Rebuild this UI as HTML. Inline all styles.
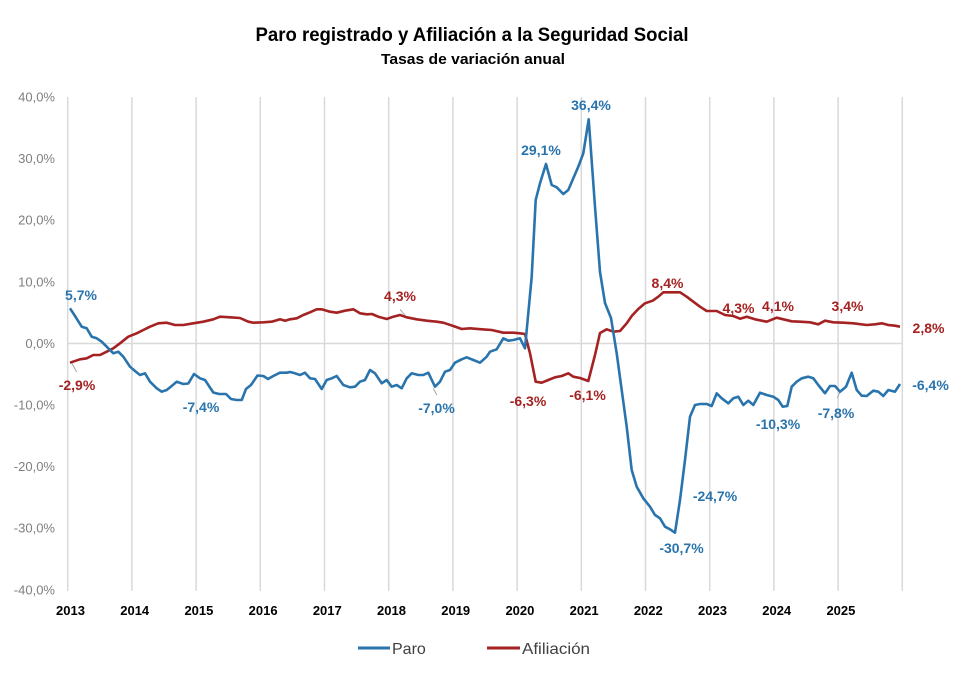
<!DOCTYPE html>
<html>
<head>
<meta charset="utf-8">
<style>
html,body{margin:0;padding:0;background:#fff;}
svg{display:block;}
</style>
</head>
<body>
<svg width="974" height="684" viewBox="0 0 974 684" xmlns="http://www.w3.org/2000/svg" font-family="'Liberation Sans', sans-serif">
<rect width="974" height="684" fill="#fff"/>
<!-- Title -->
<text x="472" y="41" text-anchor="middle" font-size="19" font-weight="bold" fill="#000" textLength="433" lengthAdjust="spacingAndGlyphs">Paro registrado y Afiliación a la Seguridad Social</text>
<text x="473" y="64" text-anchor="middle" font-size="15" font-weight="bold" fill="#000" textLength="184" lengthAdjust="spacingAndGlyphs">Tasas de variación anual</text>

<!-- vertical gridlines -->
<g stroke="#d9d9d9" stroke-width="1.5">
<line x1="67.7" y1="97" x2="67.7" y2="591"/>
<line x1="131.9" y1="97" x2="131.9" y2="591"/>
<line x1="196.1" y1="97" x2="196.1" y2="591"/>
<line x1="260.3" y1="97" x2="260.3" y2="591"/>
<line x1="324.5" y1="97" x2="324.5" y2="591"/>
<line x1="388.7" y1="97" x2="388.7" y2="591"/>
<line x1="452.9" y1="97" x2="452.9" y2="591"/>
<line x1="517.1" y1="97" x2="517.1" y2="591"/>
<line x1="581.3" y1="97" x2="581.3" y2="591"/>
<line x1="645.5" y1="97" x2="645.5" y2="591"/>
<line x1="709.7" y1="97" x2="709.7" y2="591"/>
<line x1="773.9" y1="97" x2="773.9" y2="591"/>
<line x1="838.1" y1="97" x2="838.1" y2="591"/>
<line x1="902.3" y1="97" x2="902.3" y2="591"/>
<line x1="67.7" y1="343.5" x2="902.3" y2="343.5"/>
</g>

<!-- y axis labels -->
<g font-size="13" fill="#7f7f7f" text-anchor="end">
<text x="55" y="101.5">40,0%</text>
<text x="55" y="163.1">30,0%</text>
<text x="55" y="224.7">20,0%</text>
<text x="55" y="286.3">10,0%</text>
<text x="55" y="347.9">0,0%</text>
<text x="55" y="409.5">-10,0%</text>
<text x="55" y="471.1">-20,0%</text>
<text x="55" y="532.7">-30,0%</text>
<text x="55" y="594.3">-40,0%</text>
</g>

<!-- x axis labels -->
<g font-size="13" font-weight="bold" fill="#000" text-anchor="middle">
<text x="70.5" y="615">2013</text>
<text x="134.7" y="615">2014</text>
<text x="198.9" y="615">2015</text>
<text x="263.1" y="615">2016</text>
<text x="327.3" y="615">2017</text>
<text x="391.5" y="615">2018</text>
<text x="455.7" y="615">2019</text>
<text x="519.9" y="615">2020</text>
<text x="584.1" y="615">2021</text>
<text x="648.3" y="615">2022</text>
<text x="712.5" y="615">2023</text>
<text x="776.7" y="615">2024</text>
<text x="840.9" y="615">2025</text>
</g>

<!-- leader lines -->
<g stroke="#a6a6a6" stroke-width="1">
<line x1="71.7" y1="363" x2="76.7" y2="372"/>
<line x1="400" y1="309.3" x2="406.7" y2="317.3"/>
<line x1="433.3" y1="388.3" x2="436.7" y2="395"/>
<line x1="840" y1="391.7" x2="837.3" y2="398.3"/>
</g>

<!-- Afiliacion -->
<polyline fill="none" stroke="#a52222" stroke-width="2.6" stroke-linejoin="round" points="70,362.7 80,359.3 86.7,358.3 93.3,355 100,355 106.7,351.7 113.3,348.3 120,343.3 128.3,336.7 136.7,333.3 143.3,330 150,326.7 158.3,323.3 166.7,322.7 175,325 183.3,325 193.3,323.3 203.3,321.7 213.3,319.3 220,316.7 230,317.3 240,318 248.3,321.7 253.3,322.7 263.3,322.3 271.7,321.7 280,319.3 285,320.7 290,319.3 296.7,318.3 303.3,315 310,312.3 316.7,309.3 321.7,309.3 326.7,310.7 330,311.7 336.7,312.7 345,310.7 353.3,309.3 360,313.3 366.7,314.3 372,314 378.3,316.7 386.7,319 393.3,316.7 400,315 406.7,317.3 416.7,319.3 426.7,320.7 436.7,321.7 443.3,322.7 453.3,326 461.7,329 470,328.3 481.7,329.3 491.7,330 503.3,332.7 513.3,332.7 520,333.3 525,334 530,353.3 535.7,381.7 541.7,382.7 548.3,380 555,377.3 561.7,376 568.3,373.3 573.3,376.7 580,378 588.3,381 595,355 600,333 606.7,329.3 613.3,331.7 620,331 626.7,323.3 631.7,316 638.3,309 645,303.3 652.7,300.7 658.3,296.7 663.3,292.3 671.7,292.3 680,292.3 686.7,296.7 693.3,301.7 700,306.7 706.7,311 716.7,311 725,315 733.3,316 740,318.7 746.7,316.7 755,319.3 766.7,321.7 776.7,317.7 783.3,319.3 791.7,321.3 800,321.7 810,322.3 818.3,324.3 825,320.7 833.3,322.3 843.3,322.7 853.3,323.3 866.7,325 875,324.3 881.7,323.3 888.3,325 895,325.7 900,326.7"/>

<!-- Paro -->
<polyline fill="none" stroke="#2a74ad" stroke-width="2.6" stroke-linejoin="round" points="70,308.3 75,316 81.7,326.7 86.7,328.3 91.7,336.7 96.7,338.3 101.7,341.7 106.7,346.7 113.3,353.3 118.3,351.7 123.3,356.7 130,366.7 135,371 140,375 145,373.3 150,381.7 156.7,388.3 161.7,391.7 166.7,390 171.7,386 176.7,381.7 183.3,384 188.3,383.5 194,374 200,378.3 205,380 213.3,392.5 219,394 226,394 231,399 236.7,400 241.7,400 246,389 251,385 257.5,375.5 263.3,376 268,379 273.3,376 280,372.7 286.7,372.7 290,372 295,373.3 300,375 305,372.7 310,378.3 315,379 321.7,389 326.7,380 331.7,378.3 336.7,376 343.3,385 350,387.3 355,386.7 360,381.7 365,380 370,370 375,373.3 381.7,383.3 386.7,380 391.7,386.7 396.7,385 401.7,388.3 406.7,378.3 411.7,373.3 418.3,375 423.3,375 428.3,372.7 435,386.7 440,381.7 445,371.7 450,370 455,362.7 461.7,359.3 466.7,357.3 473.3,360 480,362.7 486.7,356.7 490,351.7 496.7,349.3 503.3,338.3 508.3,340.7 513.3,340 520,338.3 525,348.3 531.7,276.7 535.7,200 540,183.3 546,164 551.7,185 556.7,187.3 563.3,194 568.3,190 573.3,178.3 578.3,166.7 583.3,153.3 588.7,119.3 595,206.7 600,272 605,303 611,318 616.7,353.3 621.7,390 626.7,426.7 631.7,470 636.7,486.7 643.3,498.3 650,506.7 655,515 660,518.3 665,526.7 670,529.3 675,532.7 680,500 685,460 690,416.7 695,405 700,404 706.7,404 711.7,406 716.7,393.3 721.7,398.3 728.3,403.3 733.3,398.3 738.3,396.7 743.3,405 748.3,400.7 753.3,405 760,392.7 766.7,395 773.3,396.7 778.3,400 782.7,406.7 787.3,406 791.7,386.7 796.7,381.7 801.7,378.3 808.3,376.7 813.3,378.3 818.3,385 825,393.3 830,386 835,386 840,391.7 846,386.7 851.7,372.7 856.7,390 861.7,395.7 866.7,396 873.3,390.7 878.3,391.7 883.3,396 888.3,390 895,391.7 900,384"/>

<!-- data labels -->
<g font-size="14" font-weight="bold" text-anchor="middle">
<g fill="#2a74ad">
<text x="81" y="300">5,7%</text>
<text x="201" y="412">-7,4%</text>
<text x="436.5" y="413">-7,0%</text>
<text x="541" y="155">29,1%</text>
<text x="591" y="110">36,4%</text>
<text x="930.5" y="390">-6,4%</text>
<text x="836" y="418">-7,8%</text>
<text x="778" y="429">-10,3%</text>
<text x="715" y="501">-24,7%</text>
<text x="681.5" y="553">-30,7%</text>
</g>
<g fill="#a52222">
<text x="77" y="390">-2,9%</text>
<text x="400" y="301">4,3%</text>
<text x="528" y="406">-6,3%</text>
<text x="587.5" y="400">-6,1%</text>
<text x="667.5" y="288">8,4%</text>
<text x="738.5" y="313">4,3%</text>
<text x="778" y="311">4,1%</text>
<text x="847.5" y="311">3,4%</text>
<text x="928.5" y="333">2,8%</text>
</g>
</g>

<!-- legend -->
<line x1="358" y1="648" x2="390" y2="648" stroke="#2a74ad" stroke-width="3"/>
<text x="392" y="654" font-size="16" fill="#404040">Paro</text>
<line x1="487" y1="648" x2="520" y2="648" stroke="#a52222" stroke-width="3"/>
<text x="522" y="654" font-size="16" fill="#404040" textLength="68" lengthAdjust="spacingAndGlyphs">Afiliación</text>
</svg>
</body>
</html>
